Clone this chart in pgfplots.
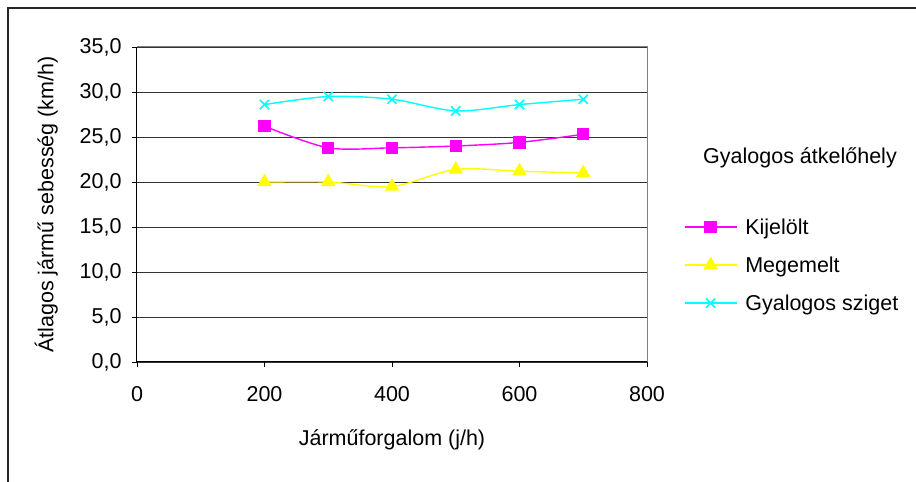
\documentclass[border=0pt]{standalone}
\usepackage{pgfplots}
\pgfplotsset{compat=1.18}
\usepackage{fontspec}
\setmainfont{Liberation Sans}
\definecolor{cMag}{RGB}{255,0,255}
\definecolor{cYel}{RGB}{255,255,0}
\definecolor{cCya}{RGB}{0,255,255}
\newcommand{\ff}{\fontsize{21.5}{25}\selectfont}
\begin{document}
\begin{tikzpicture}[x=1pt,y=1pt,font=\ff]
\path[use as bounding box] (0,0) rectangle (916,482);
\draw[line width=1.6pt,black!85] (8,0) -- (8,474) -- (916,474);
\begin{axis}[
  at={(137pt,120pt)}, anchor=south west,
  scale only axis, width=510pt, height=315pt,
  xmin=0, xmax=800, ymin=0, ymax=35,
  xtick={0,200,...,800}, ytick={0,5,...,35},
  axis x line*=bottom, axis y line*=left,
  axis line style={black, line width=1pt},
  tick align=outside, major tick length=5pt,
  tick style={black, line width=0.8pt},
  ymajorgrids, major grid style={black!80, line width=0.9pt},
  /pgf/number format/assume math mode=true,
  tick label style={font=\ff},
  label style={font=\ff},
  yticklabel style={/pgf/number format/fixed, /pgf/number format/fixed zerofill, /pgf/number format/precision=1, /pgf/number format/use comma, xshift=-7pt},
  xticklabel style={/pgf/number format/fixed, /pgf/number format/1000 sep={}, yshift=-16pt},
  xlabel={Járműforgalom (j/h)},
  ylabel={Átlagos jármű sebesség (km/h)},
  xlabel style={yshift=-21pt},
  ylabel style={yshift=15pt},
  clip=false,
  legend style={at={(rel axis cs:1.072,0.469)}, anchor=north west, draw=none, fill=none,
    row sep=17pt, font=\ff, inner xsep=0pt},
  legend cell align=left,
  /tikz/every odd column/.append style={column sep=6pt},
  legend image code/.code={
    \draw[#1, mark repeat=2, mark phase=2] plot coordinates {(0pt,0pt) (26pt,0pt) (52pt,0pt)};
  },
]
\draw[gray, line width=1pt] (rel axis cs:0,1) -- (rel axis cs:1,1) -- (rel axis cs:1,0);
\addplot[cMag, line width=1.4pt, smooth, tension=0.5, mark=square*, mark size=5.5pt, mark options={solid}]
  coordinates {(200,26.2) (300,23.8) (400,23.8) (500,24.0) (600,24.4) (700,25.3)};
\addlegendentry{Kijelölt}
\addplot[cYel, line width=1.4pt, smooth, tension=0.5, mark=triangle*, mark size=7pt, mark options={solid}]
  coordinates {(200,20.0) (300,20.0) (400,19.5) (500,21.4) (600,21.2) (700,21.0)};
\addlegendentry{Megemelt}
\addplot[cCya, line width=1.4pt, smooth, tension=0.5, mark=x, mark size=6.5pt, mark options={solid, line width=1.6pt}]
  coordinates {(200,28.6) (300,29.5) (400,29.2) (500,27.9) (600,28.6) (700,29.2)};
\addlegendentry{Gyalogos sziget}
\node[font=\ff] at (rel axis cs:1.3,0.648) {Gyalogos átkelőhely};
\end{axis}
\end{tikzpicture}
\end{document}
